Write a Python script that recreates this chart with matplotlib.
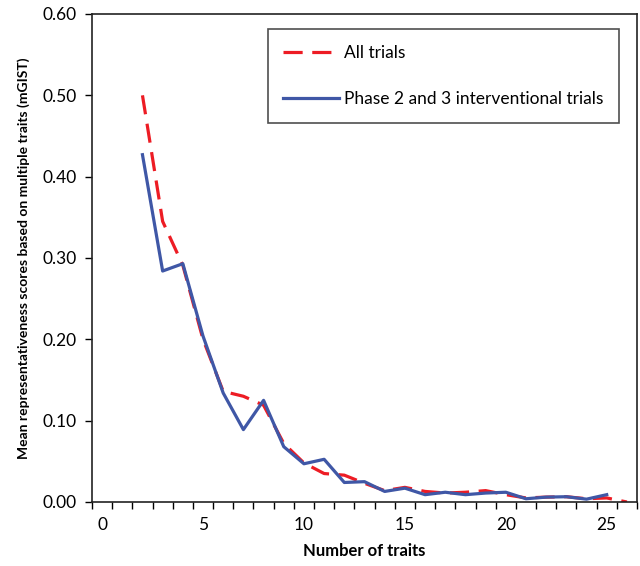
import matplotlib
matplotlib.use("Agg")
import matplotlib.pyplot as plt
from matplotlib.lines import Line2D

x_all = [2, 3, 4, 5, 6, 7, 8, 9, 10, 11, 12, 13, 14, 15, 16, 17, 18, 19, 20, 21, 22, 23, 24, 25, 26]
y_all = [0.500, 0.345, 0.291, 0.200, 0.136, 0.130, 0.119, 0.072, 0.048, 0.035, 0.033, 0.023,
         0.014, 0.018, 0.013, 0.011, 0.012, 0.014, 0.009, 0.005, 0.006, 0.0065, 0.004, 0.005, 0.000]
x_p23 = [2, 3, 4, 5, 6, 7, 8, 9, 10, 11, 12, 13, 14, 15, 16, 17, 18, 19, 20, 21, 22, 23, 24, 25]
y_p23 = [0.427, 0.284, 0.293, 0.204, 0.134, 0.089, 0.125, 0.068, 0.047, 0.0525, 0.024, 0.025,
         0.013, 0.017, 0.009, 0.012, 0.009, 0.011, 0.012, 0.004, 0.006, 0.0065, 0.0035, 0.009]
series_names = ["All trials", "Phase 2 and 3 interventional trials"]
x_ticklabels = [0, 5, 10, 15, 20, 25]
y_ticks = [0.0, 0.1, 0.2, 0.3, 0.4, 0.5, 0.6]

plt.rcParams['font.family'] = ['Lato', 'DejaVu Sans']

fig = plt.figure(figsize=(6.4, 5.66), dpi=100)
ax = fig.add_axes([92/640, 1 - 502/566, (637-92)/640, (502-14)/566])

red = '#ED1C24'
blue = '#3F57A6'
ax.plot(x_all, y_all, color=red, lw=2.3, dashes=(6, 3), label=series_names[0])
ax.plot(x_p23, y_p23, color=blue, lw=2.3, label=series_names[1])

ax.set_xlim(-0.5, 26.5)
ax.set_ylim(0, 0.6)
ax.set_yticks(y_ticks)
ax.set_yticklabels([f"{v:.2f}" for v in y_ticks], fontsize=12.5)
ax.set_xticks([v + 0.5 for v in range(-1, 27)])
ax.set_xticklabels([])
ax.set_xticks(x_ticklabels, minor=True)
ax.set_xticklabels([str(v) for v in x_ticklabels], minor=True, fontsize=12.5)
ax.tick_params(axis='x', which='major', direction='out', length=5, width=1)
ax.tick_params(axis='x', which='minor', length=0, pad=11)
ax.tick_params(axis='y', direction='out', length=5, width=1, pad=6)
for s in ax.spines.values():
    s.set_linewidth(1.2)
    s.set_color('#222222')

ax.set_xlabel("Number of traits", fontsize=12, fontweight='bold', labelpad=7)
ax.set_ylabel("Mean representativeness scores based on multiple traits (mGIST)",
              fontsize=10, fontweight='bold', labelpad=9)

handles = [Line2D([0], [0], color=red, lw=2.3, dashes=(6, 3)),
           Line2D([0], [0], color=blue, lw=2.3)]
leg = ax.legend(handles, series_names, loc='upper right', fontsize=12.5,
                frameon=True, fancybox=False, edgecolor='#222222', handlelength=3.2,
                handletextpad=0.3, labelspacing=1.75, borderpad=0.9, borderaxespad=0)
leg.set_bbox_to_anchor(((619-92)/545, (502-29)/488), transform=ax.transAxes)
leg.get_frame().set_linewidth(1.2)

fig.savefig("out.png", dpi=100)
